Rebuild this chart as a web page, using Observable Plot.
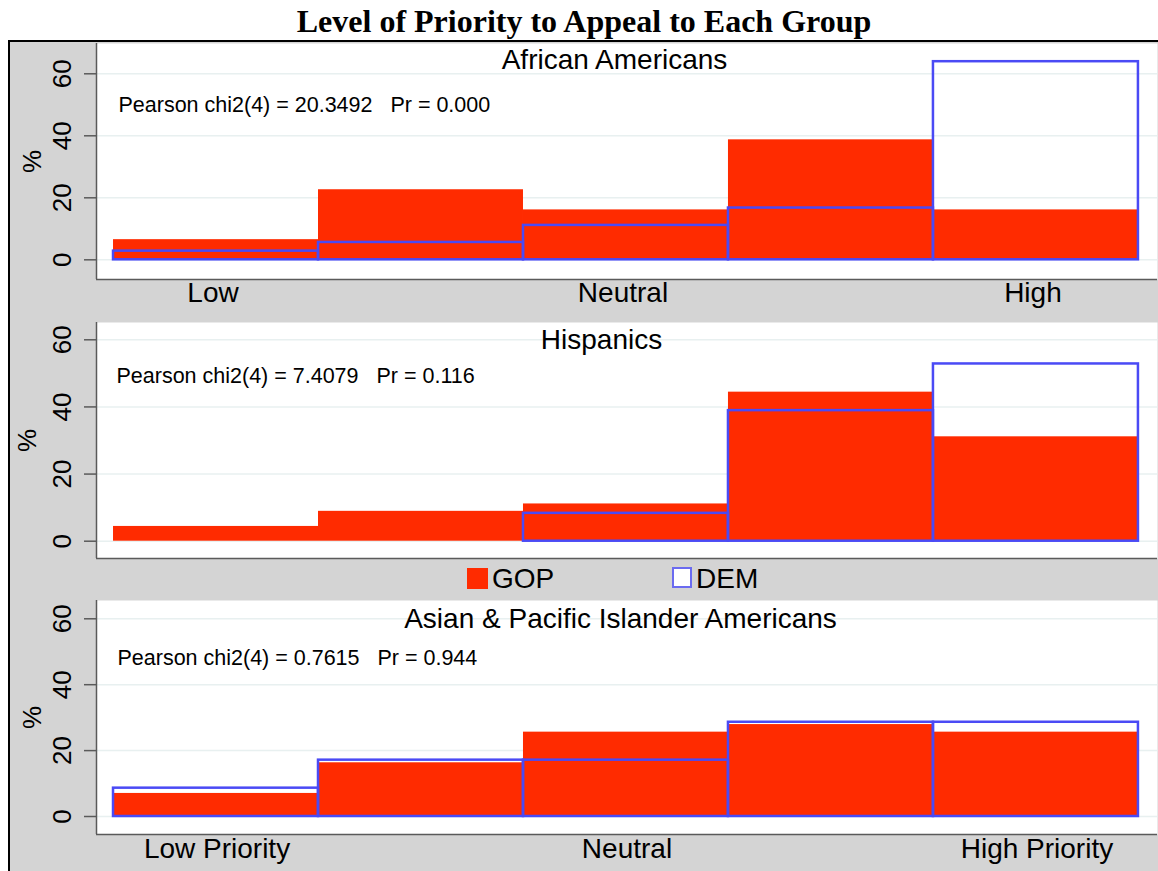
<!DOCTYPE html>
<html>
<head>
<meta charset="utf-8">
<script src="https://cdn.jsdelivr.net/npm/d3@7"></script>
<script src="https://cdn.jsdelivr.net/npm/@observablehq/plot@0.6"></script>
<style>
  body { margin: 0; background: #fff; }
  #wrap { position: relative; width: 1158px; height: 871px; overflow: hidden; background: #fff;
          font-family: "Liberation Sans", Arial, Helvetica, sans-serif; color: #000; }
  #box { position: absolute; left: 8px; top: 39.5px; right: 0; bottom: 0;
         border-left: 2.5px solid #000; border-top: 2.5px solid #000; background: #d4d4d4; }
  #title { position: absolute; left: 0; top: 5px; width: 1168px; text-align: center;
           font: bold 32px/32px "Liberation Serif", "Times New Roman", serif; white-space: nowrap; }
  .panel { position: absolute; left: 0; }
  .sw { position: absolute; box-sizing: border-box; }
  .lt { position: absolute; font-size: 28px; line-height: 28px; white-space: nowrap; }
</style>
</head>
<body>
<div id="wrap">
  <div id="box"></div>
  <div id="title">Level of Priority to Appeal to Each Group</div>
  <div id="p1" class="panel"></div>
  <div id="p2" class="panel"></div>
  <div id="p3" class="panel"></div>
  <div id="legend"></div>
</div>
<script>
// ---- data ----
const categories = [1, 2, 3, 4, 5];
const yTicks = [0, 20, 40, 60];
const xTickValues = [1, 3, 5];
const xLabelsTop = ["Low", "Neutral", "High"];
const xLabelsBottom = ["Low Priority", "Neutral", "High Priority"];
const groups = ["African Americans", "Hispanics", "Asian & Pacific Islander Americans"];
const statTexts = [
  "Pearson chi2(4) = 20.3492   Pr = 0.000",
  "Pearson chi2(4) = 7.4079   Pr = 0.116",
  "Pearson chi2(4) = 0.7615   Pr = 0.944"
];
const seriesNames = ["GOP", "DEM"];
const gopAfrican  = [6.5, 22.6, 16.1, 38.7, 16.1];
const demAfrican  = [2.8, 5.6, 11.1, 16.7, 63.9];
const gopHispanic = [4.4, 8.9, 11.1, 44.4, 31.1];
const demHispanic = [0, 0, 8.3, 38.9, 52.8];
const gopAsian    = [7.0, 16.3, 25.6, 27.9, 25.6];
const demAsian    = [8.6, 17.1, 17.1, 28.6, 28.6];

// ---- style ----
const GOP_COLOR = "#ff2b00";
const DEM_COLOR = "#4a4af5";
const AXIS_COLOR = "#5a5a5a";
const GRID_COLOR = "#e8f0f0";
const xDomain = [0.417, 5.593];

function panel(cfg) {
  const rows = categories.map((c, i) => ({cat: c, gop: cfg.gop[i], dem: cfg.dem[i]}));
  const marks = [
    Plot.frame({fill: "#fff", stroke: null}),
    Plot.ruleY(yTicks, {stroke: GRID_COLOR, strokeWidth: 1.5}),
    Plot.rect(rows, {x1: d => d.cat - 0.5, x2: d => d.cat + 0.5, y1: 0, y2: "gop", fill: GOP_COLOR}),
    Plot.rect(rows.filter(d => d.dem > 0), {x1: d => d.cat - 0.5, x2: d => d.cat + 0.5, y1: 0, y2: "dem",
      fill: "none", stroke: DEM_COLOR, strokeWidth: 2.5}),
    Plot.ruleX([xDomain[0]], {stroke: AXIS_COLOR, strokeWidth: 1.5}),
    Plot.ruleY([cfg.yDomain[0]], {stroke: AXIS_COLOR, strokeWidth: 1.5}),
    Plot.axisY({ticks: yTicks, tickSize: 12, tickFormat: () => "", label: null, stroke: AXIS_COLOR, strokeWidth: 1.5}),
    Plot.text(yTicks, {y: d => d, text: d => String(d), frameAnchor: "left", dx: -34, rotate: -90,
      fontSize: 26, textAnchor: "middle", lineAnchor: "middle", fill: "#000"}),
    Plot.text(["%"], {frameAnchor: "left", dx: cfg.pctDx, rotate: -90, fontSize: 26,
      textAnchor: "middle", lineAnchor: "middle", fill: "#000"}),
    Plot.text([cfg.title], {frameAnchor: "top", dx: cfg.titleDx, dy: cfg.titleDy, fontSize: 28,
      textAnchor: "middle", lineAnchor: "middle", fill: "#000"}),
    Plot.text([cfg.stat], {frameAnchor: "top-left", dx: cfg.statDx, dy: cfg.statDy, fontSize: 21.5,
      textAnchor: "start", lineAnchor: "middle", fill: "#000"})
  ];
  if (cfg.xLabels) {
    const m = new Map(xTickValues.map((v, i) => [v, cfg.xLabels[i]]));
    marks.push(Plot.axisX({ticks: xTickValues, tickSize: 0, tickPadding: cfg.xPad, tickFormat: d => m.get(d),
      fontSize: 28, label: null, fill: "#000", dx: cfg.xDx}));
  }
  const chart = Plot.plot({
    width: 1158,
    height: cfg.height,
    marginLeft: 96,
    marginRight: 1,
    marginTop: cfg.mt,
    marginBottom: cfg.mb,
    x: {domain: xDomain, axis: cfg.xLabels ? undefined : null},
    y: {domain: cfg.yDomain},
    style: {background: "transparent", overflow: "visible", fontFamily: "Liberation Sans, Arial, sans-serif", color: "#000"},
    marks
  });
  const host = document.getElementById(cfg.id);
  host.style.top = cfg.top + "px";
  host.appendChild(chart);
}

panel({id: "p1", gop: gopAfrican, dem: demAfrican, title: groups[0], stat: statTexts[0],
  yDomain: [-6.35, 69.77], top: 40, height: 272, mt: 3, mb: 33, xLabels: xLabelsTop, xPad: 3, xDx: -3,
  titleDx: -12.5, titleDy: 16.5, statDx: 22, statDy: 61.5, pctDx: -64});
panel({id: "p2", gop: gopHispanic, dem: demHispanic, title: groups[1], stat: statTexts[1],
  yDomain: [-5.15, 65.15], top: 312, height: 286, mt: 10, mb: 40, xLabels: null,
  titleDx: -25.5, titleDy: 18, statDx: 20, statDy: 53.8, pctDx: -69});
panel({id: "p3", gop: gopAsian, dem: demAsian, title: groups[2], stat: statTexts[2],
  yDomain: [-5.46, 65.55], top: 598, height: 273, mt: 2, mb: 37, xLabels: xLabelsBottom, xPad: 4, xDx: 1,
  titleDx: -6.5, titleDy: 19, statDx: 21, statDy: 57.5, pctDx: -64});

// ---- legend ----
const legend = document.getElementById("legend");
const legendItems = [
  {name: seriesNames[0], sw: {left: 467, top: 568, width: 21, height: 21, background: GOP_COLOR}, textLeft: 492},
  {name: seriesNames[1], sw: {left: 672, top: 567, width: 20, height: 21, border: "2.5px solid #6b6bf0", background: "#fff"}, textLeft: 696}
];
legendItems.forEach(it => {
  const s = document.createElement("div");
  s.className = "sw";
  Object.entries(it.sw).forEach(([k, v]) => s.style[k] = typeof v === "number" ? v + "px" : v);
  legend.appendChild(s);
  const t = document.createElement("div");
  t.className = "lt";
  t.style.left = it.textLeft + "px";
  t.style.top = "564.5px";
  t.textContent = it.name;
  legend.appendChild(t);
});
</script>
</body>
</html>
